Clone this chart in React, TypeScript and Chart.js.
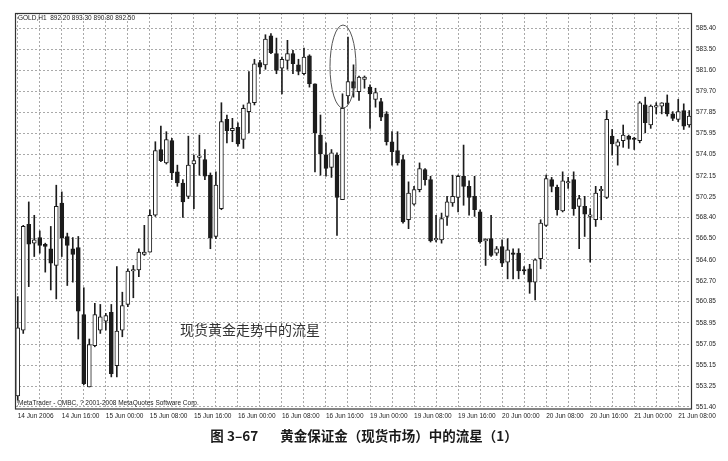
import React, { useEffect, useRef } from 'react';
import { Chart, registerables } from 'chart.js';

Chart.register(...registerables);

// Hourly GOLD candles, 14 Jun 2006 08:00 onward
const opens = [
  552.4, 558.3, 567.8, 566.1, 566.6, 566.0, 565.6, 564.1, 569.7, 566.7,
  565.6, 565.7, 559.7, 553.2, 556.9, 558.3, 559.1, 559.9, 555.1, 558.3,
  560.6, 563.6, 563.7, 565.1, 565.3, 568.6, 574.5, 573.3, 575.3, 572.5,
  571.5, 570.3, 573.2, 573.8, 573.6, 572.2, 566.7, 569.2, 577.2, 576.2,
  576.5, 575.4, 577.9, 578.7, 582.3, 582.1, 584.7, 583.1, 581.8, 582.5,
  583.1, 582.1, 581.3, 582.9, 580.4, 575.8, 574.0, 572.9, 574.0, 570.0,
  579.3, 580.6, 579.7, 580.8, 580.1, 579.0, 578.8, 577.7, 575.2, 574.4,
  573.6, 568.2, 569.6, 570.9, 572.7, 571.8, 566.4, 566.4, 568.5, 569.7,
  570.2, 572.1, 571.2, 570.3, 568.9, 566.3, 566.5, 565.2, 565.8, 564.4,
  565.2, 565.2, 563.7, 563.8, 562.6, 564.7, 567.7, 571.8, 571.1, 569.0,
  571.5, 571.8, 569.4, 569.4, 568.5, 568.2, 570.8, 570.2, 575.7, 574.8,
  575.3, 575.7, 575.5, 575.3, 578.5, 576.7, 578.3, 578.4, 578.7, 577.7,
  577.2, 578.0, 576.7,
];
const highs = [
  561.3, 567.7, 569.8, 568.6, 567.2, 566.1, 567.6, 571.3, 570.7, 567.0,
  566.6, 566.7, 562.1, 557.5, 560.7, 560.6, 559.8, 560.6, 564.0, 561.7,
  563.8, 564.1, 565.6, 567.7, 569.1, 575.2, 576.6, 576.1, 575.5, 573.1,
  571.8, 575.7, 574.0, 575.8, 574.5, 572.4, 572.5, 578.7, 577.6, 577.3,
  576.9, 578.5, 581.5, 582.6, 582.5, 584.8, 584.9, 584.5, 582.8, 584.3,
  583.4, 582.6, 583.6, 583.0, 580.4, 577.6, 575.1, 574.5, 574.2, 579.5,
  584.6, 582.1, 581.1, 581.1, 580.3, 580.0, 579.1, 577.9, 576.1, 576.1,
  574.0, 571.6, 571.2, 573.3, 572.8, 572.1, 568.6, 568.8, 570.3, 572.2,
  572.2, 574.9, 571.7, 572.1, 569.1, 566.5, 568.6, 565.8, 566.4, 566.5,
  565.6, 565.6, 564.0, 564.2, 564.7, 568.2, 572.2, 572.0, 571.3, 572.5,
  572.0, 572.5, 570.4, 570.3, 569.2, 571.2, 571.2, 578.0, 576.3, 575.4,
  576.7, 575.8, 575.6, 578.8, 579.2, 578.5, 578.7, 578.7, 579.4, 577.9,
  579.0, 578.6, 578.0,
];
const lows = [
  552.0, 558.0, 562.2, 564.9, 565.2, 563.5, 561.9, 561.1, 564.9, 562.3,
  562.6, 557.5, 553.4, 553.2, 556.8, 558.0, 558.3, 554.1, 554.1, 557.7,
  560.4, 561.2, 563.1, 565.0, 565.3, 568.5, 573.4, 573.2, 571.8, 571.2,
  568.4, 570.1, 569.2, 572.2, 571.8, 565.6, 566.5, 569.1, 575.1, 575.2,
  574.8, 574.6, 576.0, 578.5, 581.3, 581.7, 583.1, 581.3, 579.5, 581.7,
  581.3, 581.2, 581.2, 580.1, 572.5, 572.2, 572.1, 572.0, 566.8, 570.0,
  578.6, 579.2, 578.9, 580.0, 576.4, 578.3, 577.1, 574.9, 573.1, 573.1,
  567.9, 567.4, 569.5, 570.7, 571.3, 566.2, 566.2, 566.1, 567.7, 569.4,
  568.9, 569.5, 568.6, 568.5, 566.1, 564.1, 564.9, 565.0, 564.0, 562.9,
  562.9, 562.9, 563.3, 561.6, 561.0, 563.8, 567.6, 570.7, 568.6, 568.9,
  571.0, 568.6, 565.6, 566.7, 564.4, 567.6, 568.2, 570.1, 574.0, 573.1,
  574.7, 574.6, 574.5, 575.1, 576.0, 576.4, 577.7, 577.7, 577.5, 577.1,
  577.0, 576.3, 576.5,
];
const closes = [
  558.5, 567.6, 566.0, 566.4, 565.9, 565.8, 564.3, 569.4, 566.6, 565.9,
  565.1, 560.0, 553.5, 557.0, 559.7, 559.5, 559.6, 554.4, 558.2, 560.5,
  563.6, 563.7, 565.3, 565.3, 568.6, 574.4, 573.5, 575.4, 572.4, 571.5,
  569.8, 573.1, 573.5, 573.9, 572.1, 566.6, 571.3, 577.0, 576.2, 576.4,
  575.0, 578.2, 578.7, 582.2, 581.9, 584.4, 583.2, 581.6, 582.6, 583.1,
  582.2, 581.5, 582.8, 580.4, 576.0, 574.1, 572.8, 574.2, 570.2, 578.2,
  580.6, 580.0, 581.0, 581.0, 579.5, 579.6, 577.4, 575.2, 574.3, 573.3,
  568.0, 570.6, 570.9, 572.8, 571.8, 566.3, 566.5, 568.3, 569.8, 570.3,
  572.1, 571.2, 570.2, 569.1, 566.2, 566.4, 565.0, 565.6, 564.3, 565.5,
  565.1, 563.6, 563.6, 562.6, 564.6, 567.9, 571.9, 571.2, 569.1, 571.7,
  571.6, 569.2, 570.1, 568.7, 568.6, 570.6, 570.9, 577.2, 575.0, 575.2,
  575.8, 575.4, 575.4, 578.7, 576.9, 578.4, 578.4, 578.7, 577.7, 577.3,
  577.9, 576.6, 577.5,
];

const tradingDays = ['14 Jun', '15 Jun', '16 Jun', '19 Jun', '20 Jun', '21 Jun'];
const tickLabels = [
  '14 Jun 2006', '14 Jun 16:00', '15 Jun 00:00', '15 Jun 08:00', '15 Jun 16:00',
  '16 Jun 00:00', '16 Jun 08:00', '16 Jun 16:00', '19 Jun 00:00', '19 Jun 08:00',
  '19 Jun 16:00', '20 Jun 00:00', '20 Jun 08:00', '20 Jun 16:00', '21 Jun 00:00',
  '21 Jun 08:00',
];
const priceTicks = [
  585.40, 583.50, 581.60, 579.70, 577.85, 575.95, 574.05, 572.15, 570.25, 568.40,
  566.50, 564.60, 562.70, 560.85, 558.95, 557.05, 555.15, 553.25, 551.40,
];

// category labels: one per hourly bar
const categories: string[] = [];
{
  let d = 0;
  let h = 8;
  while (categories.length < opens.length) {
    categories.push(`${tradingDays[d]} ${String(h).padStart(2, '0')}:00`);
    h += 1;
    if (h === 24) { h = 0; d += 1; }
  }
}

const INK = '#1c1c1c';
const GRID = '#a9a9a9';
const TICK_FONT = { family: '"Liberation Sans", Arial, sans-serif', size: 6.5 };

export default function App() {
  const ref = useRef<HTMLCanvasElement | null>(null);

  useEffect(() => {
    if (!ref.current) return;
    const bodies = opens.map((o, i) => [o, closes[i]]);
    const wicks = lows.map((l, i) => [l, highs[i]]);
    const bodyColors = opens.map((o, i) => (closes[i] > o ? '#ffffff' : INK));

    const framePlugin = {
      id: 'frame',
      afterDraw(chart: any) {
        const { ctx, chartArea } = chart;
        ctx.save();
        ctx.strokeStyle = '#333';
        ctx.lineWidth = 1.2;
        ctx.strokeRect(chartArea.left + 0.5, chartArea.top + 0.5,
          chartArea.right - chartArea.left - 1, chartArea.bottom - chartArea.top - 0.5);
        ctx.restore();
      },
    };
    const ellipsePlugin = {
      id: 'starRing',
      afterDatasetsDraw(chart: any) {
        const { ctx } = chart;
        const xs = chart.scales.x;
        const ys = chart.scales.y;
        const cx = xs.getPixelForValue(60) - 5;
        const yTop = ys.getPixelForValue(585.67);
        const yBot = ys.getPixelForValue(578.22);
        ctx.save();
        ctx.strokeStyle = '#555';
        ctx.lineWidth = 1;
        ctx.beginPath();
        ctx.ellipse(cx, (yTop + yBot) / 2, 13, (yBot - yTop) / 2, 0, 0, Math.PI * 2);
        ctx.stroke();
        ctx.restore();
      },
    };

    const chart = new Chart(ref.current, {
      type: 'bar',
      data: {
        labels: categories,
        datasets: [
          {
            data: bodies as any,
            backgroundColor: bodyColors,
            borderColor: INK,
            borderWidth: 1,
            borderSkipped: false,
            barThickness: 4,
            minBarLength: 1.5,
            grouped: false,
            order: 0,
          } as any,
          {
            data: wicks as any,
            backgroundColor: INK,
            borderWidth: 0,
            barThickness: 1,
            grouped: false,
            order: 1,
          } as any,
        ],
      },
      options: {
        responsive: false,
        animation: false,
        events: [],
        layout: { padding: { left: 15, top: 13, right: 0, bottom: 0 } },
        plugins: { legend: { display: false }, tooltip: { enabled: false } },
        scales: {
          x: {
            type: 'category',
            offset: true,
            grid: {
              offset: false,
              drawTicks: false,
              color: (c: any) => (c.index % 4 === 0 ? GRID : 'rgba(0,0,0,0)'),
            },
            border: { display: false, dash: [2, 2] },
            ticks: {
              autoSkip: false,
              maxRotation: 0,
              minRotation: 0,
              align: 'start',
              padding: 3,
              color: '#222',
              font: TICK_FONT,
              callback: (_v: any, i: number) => (i % 8 === 0 ? tickLabels[i / 8] : ''),
            },
            afterFit: (s: any) => { s.height = 52; },
          } as any,
          y: {
            position: 'right',
            min: 551.22,
            max: 586.75,
            afterBuildTicks: (s: any) => { s.ticks = priceTicks.map((v) => ({ value: v })); },
            grid: { color: GRID, drawTicks: false },
            border: { display: false, dash: [2, 2] },
            ticks: {
              autoSkip: false,
              padding: 4,
              color: '#222',
              font: TICK_FONT,
              callback: (v: any) => Number(v).toFixed(2),
            },
            afterFit: (s: any) => { s.width = 36; },
          } as any,
        },
      },
      plugins: [framePlugin, ellipsePlugin],
    });
    return () => chart.destroy();
  }, []);

  const small: React.CSSProperties = {
    position: 'absolute',
    fontFamily: '"Liberation Sans", Arial, sans-serif',
    fontSize: 6.5,
    color: '#222',
    whiteSpace: 'nowrap',
    lineHeight: 1,
  };

  return (
    <div style={{ position: 'absolute', left: 0, top: 0, width: 728, height: 461, background: '#fff', overflow: 'hidden' }}>
      <canvas ref={ref} width={728} height={461} style={{ display: 'block', width: 728, height: 461 }} />
      <div style={{ ...small, left: 18, top: 15 }}>GOLD,H1&nbsp; 892.20 893.30 890.80 892.50</div>
      <div style={{ ...small, left: 18, top: 400 }}>MetaTrader - CMBC, ? 2001-2008 MetaQuotes Software Corp.</div>
      <div style={{
        position: 'absolute', left: 180, top: 321, fontFamily: '"Noto Sans CJK SC", sans-serif',
        fontSize: 14, color: '#333', whiteSpace: 'nowrap', lineHeight: 1.2,
      }}>现货黄金走势中的流星</div>
      <div style={{
        position: 'absolute', left: 0, top: 427, width: 728, textAlign: 'center',
        fontFamily: '"Noto Sans CJK SC", sans-serif', fontWeight: 700, fontSize: 13.5,
        color: '#1a1a1a', whiteSpace: 'nowrap', lineHeight: 1.3,
      }}>图 3–67<span style={{ display: 'inline-block', width: 22 }} />黄金保证金（现货市场）中的流星（1）</div>
    </div>
  );
}
